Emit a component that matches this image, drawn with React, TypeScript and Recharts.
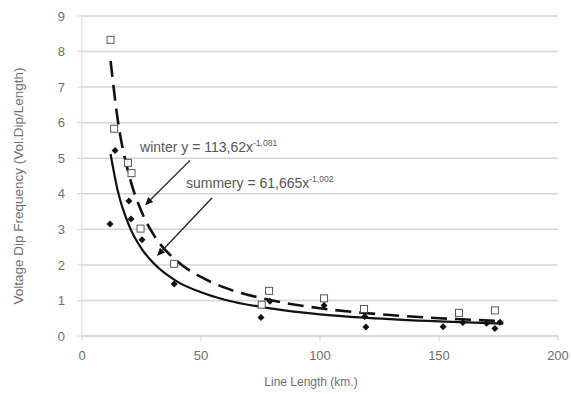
import { CartesianGrid, ComposedChart, Line, ReferenceLine, Scatter, XAxis, YAxis } from 'recharts'

// measured points, line length (km) vs dip frequency
const winterLength = [12, 13.5, 19.3, 20.8, 24.6, 38.7, 75.5, 78.6, 101.7, 118.5, 158.4, 173.5]
const winterDips = [8.33, 5.83, 4.87, 4.58, 3.02, 2.03, 0.88, 1.27, 1.06, 0.76, 0.65, 0.72]

const summerLength = [11.8, 13.9, 19.7, 20.6, 25.2, 38.7, 75.2, 79, 101.7, 118.8, 119.3, 151.7, 160, 170, 173.5, 175.6]
const summerDips = [3.15, 5.22, 3.8, 3.29, 2.71, 1.46, 0.52, 0.98, 0.86, 0.55, 0.25, 0.26, 0.38, 0.36, 0.21, 0.39]

// trend curves
const trendLength = [12, 15, 20, 25, 30, 40, 50, 60, 80, 100, 120, 150, 177]
const winterTrend = [7.74, 6.09, 4.47, 3.5, 2.86, 2.1, 1.66, 1.36, 1.0, 0.78, 0.64, 0.5, 0.42]
const summerTrend = [5.12, 4.09, 3.07, 2.46, 2.05, 1.53, 1.23, 1.02, 0.77, 0.61, 0.51, 0.41, 0.35]

const xTicks = [0, 50, 100, 150, 200]
const yTicks = [0, 1, 2, 3, 4, 5, 6, 7, 8, 9]

const winterPoints = winterLength.map((x, i) => ({ x, y: winterDips[i] }))
const summerPoints = summerLength.map((x, i) => ({ x, y: summerDips[i] }))
const winterCurve = trendLength.map((x, i) => ({ x, y: winterTrend[i] }))
const summerCurve = trendLength.map((x, i) => ({ x, y: summerTrend[i] }))

const font = '"Liberation Sans Narrow", "Liberation Sans", sans-serif'
const grey = '#6e6e6e'
const gridGrey = '#d4d4d4'

function OpenSquare(props: any) {
  const { cx, cy } = props
  return <rect x={cx - 3.5} y={cy - 3.5} width={7} height={7} fill="#fff" stroke="#555" strokeWidth={1} />
}

function Diamond(props: any) {
  const { cx, cy } = props
  return <path d={`M${cx},${cy - 3.5} L${cx + 3.5},${cy} L${cx},${cy + 3.5} L${cx - 3.5},${cy} Z`} fill="#111" />
}

function arrowShape(name: string, formula: string, exponent: string, dx: number, dy: number) {
  return (props: any) => {
    const { x1, y1, x2, y2 } = props
    if ([x1, y1, x2, y2].some((v) => typeof v !== 'number' || Number.isNaN(v))) return <g />
    const ang = Math.atan2(y2 - y1, x2 - x1)
    const len = 8
    const w = 3.5
    const bx = x2 - len * Math.cos(ang)
    const by = y2 - len * Math.sin(ang)
    const px = -Math.sin(ang) * w
    const py = Math.cos(ang) * w
    return (
      <g>
        <line x1={x1} y1={y1} x2={bx} y2={by} stroke="#222" strokeWidth={1.3} />
        <path d={`M${x2},${y2} L${bx + px},${by + py} L${bx - px},${by - py} Z`} fill="#111" />
        <text x={x1 + dx} y={y1 + dy} fill="#555" fontSize={14} fontFamily={font}>
          {name}
          {formula}
          <tspan fontSize={8.5} dy={-6}>
            {exponent}
          </tspan>
        </text>
      </g>
    )
  }
}

export default function App() {
  return (
    <div style={{ position: 'absolute', left: 0, top: 0, width: 571, height: 394, background: '#fff' }}>
      <ComposedChart width={571} height={394} margin={{ top: 16, right: 13, bottom: 0, left: 0 }}>
        <CartesianGrid vertical={false} stroke={gridGrey} strokeWidth={1.5} />
        <XAxis
          type="number"
          dataKey="x"
          domain={[0, 200]}
          ticks={xTicks}
          height={58}
          stroke={gridGrey}
          tickSize={5}
          tickMargin={10}
          tick={{ fill: grey, fontSize: 13, fontFamily: font }}
          label={{ value: 'Line Length (km.)', position: 'insideBottom', offset: 8, dx: -9, fill: grey, fontSize: 12, fontFamily: font }}
        />
        <YAxis
          type="number"
          dataKey="y"
          domain={[0, 9]}
          ticks={yTicks}
          width={82}
          stroke={gridGrey}
          tickSize={5}
          tickMargin={12}
          tick={{ fill: grey, fontSize: 13, fontFamily: font }}
          label={{
            value: 'Voltage Dip Frequency (Vol.Dip/Length)',
            angle: -90,
            position: 'insideLeft',
            offset: 18,
            dy: 10,
            style: { textAnchor: 'middle' },
            fill: grey,
            fontSize: 13.5,
            fontFamily: font,
          }}
        />
        <Line
          data={summerCurve}
          dataKey="y"
          type="monotone"
          stroke="#111"
          strokeWidth={2.2}
          dot={false}
          isAnimationActive={false}
        />
        <Line
          data={winterCurve}
          dataKey="y"
          type="monotone"
          stroke="#111"
          strokeWidth={2.6}
          strokeDasharray="16 8"
          dot={false}
          isAnimationActive={false}
        />
        <Scatter data={winterPoints} shape={OpenSquare} isAnimationActive={false} />
        <Scatter data={summerPoints} shape={Diamond} isAnimationActive={false} />
        <ReferenceLine
          segment={[{ x: 45.4, y: 4.94 }, { x: 26.5, y: 3.68 }]}
          shape={arrowShape('winter ', 'y = 113,62x', '-1,081', -50, -8)}
          ifOverflow="visible"
        />
        <ReferenceLine
          segment={[{ x: 54.6, y: 3.88 }, { x: 31.5, y: 2.25 }]}
          shape={arrowShape('summer', 'y = 61,665x', '-1,002', -26, -10)}
          ifOverflow="visible"
        />
      </ComposedChart>
    </div>
  )
}
